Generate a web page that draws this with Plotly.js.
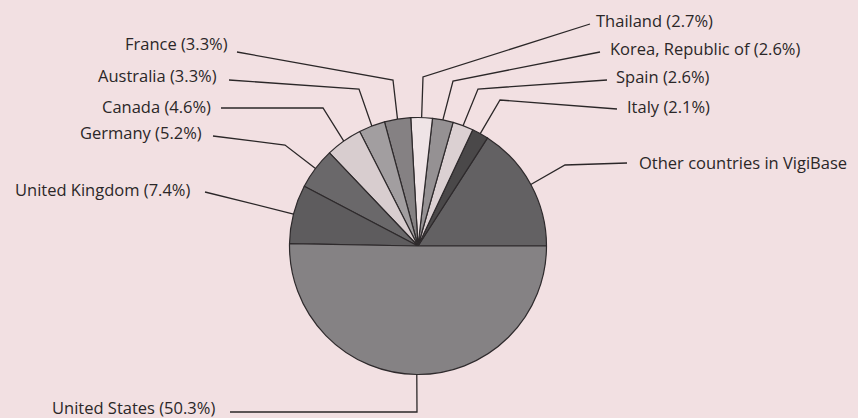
<!DOCTYPE html>
<html>
<head>
<meta charset="utf-8">
<script src="https://cdn.plot.ly/plotly-3.0.1.min.js"></script>
<style>
html,body{margin:0;padding:0;background:#f2e0e2;}
#chart{width:858px;height:418px;}
</style>
</head>
<body>
<div id="chart"></div>
<script>
// Data (slice order: counterclockwise from 3 o'clock)
const countries = ["Other countries in VigiBase","Italy","Spain","Korea, Republic of","Thailand","France","Australia","Canada","Germany","United Kingdom","United States"];
const shares = [15.9, 2.1, 2.6, 2.6, 2.7, 3.3, 3.3, 4.6, 5.2, 7.4, 50.3];
const labelTexts = ["Other countries in VigiBase","Italy (2.1%)","Spain (2.6%)","Korea, Republic of (2.6%)","Thailand (2.7%)","France (3.3%)","Australia (3.3%)","Canada (4.6%)","Germany (5.2%)","United Kingdom (7.4%)","United States (50.3%)"];
const sliceColors = ["#636163","#4a4849","#dbd0d2","#959193","#efe4e6","#858183","#a29ea0","#d8cdcf","#6a686a","#5e5c5e","#858284"];

// Layout (pixels)
const W = 858, H = 418;
const CX = 418, CY = 246, R = 128.5;
// label anchor [x, y, side], elbow points
const labelPos = [
  [637,162,"left"],[625,107,"left"],[614,76,"left"],[608,48,"left"],[594,20,"left"],
  [230,43,"right"],[219,75,"right"],[213,107,"right"],[204,133,"right"],[192,189,"right"],[217,407,"right"]
];
const lineStart = [
  [627,163],[617,109],[607,80],[600,52],[590,24],
  [237,52],[229,80],[221,108],[213,136],[205,192],[230,412]
];
const elbows = [
  [[565,165]],[[500,100]],[[478,89]],[[453,81]],[[423,77]],
  [[393,80]],[[359,89]],[[323,108]],[[285,145]],[],[[417,412]]
];

const px = x => x / W;
const py = y => 1 - y / H;

const total = shares.reduce((a,b)=>a+b,0);
let cum = 0;
const shapes = [];
const annotations = [];
shares.forEach((v,i)=>{
  const mid = (cum + v/2) / total * 2 * Math.PI; // from 3 o'clock, counterclockwise
  cum += v;
  const ex = CX + R * Math.cos(mid);
  const ey = CY - R * Math.sin(mid);
  const pts = [lineStart[i], ...elbows[i], [ex, ey]];
  let d = "M " + pts.map(p => px(p[0]).toFixed(5) + "," + py(p[1]).toFixed(5)).join(" L ");
  shapes.push({type:"path", xref:"paper", yref:"paper", path:d, line:{color:"#2b2728", width:1.3}});
  const lp = labelPos[i];
  annotations.push({
    xref:"paper", yref:"paper", x:px(lp[0]), y:py(lp[1]),
    xanchor:lp[2], yanchor:"middle", showarrow:false,
    text:labelTexts[i],
    font:{family:"Open Sans, sans-serif", size:16.5, color:"#2b2728", weight:500}
  });
});

// Plotly counterclockwise pies: first slice spans [rotation, rotation + angle] clockwise from 12 o'clock
const firstAngle = shares[0] / total * 360;

const data = [{
  type:"pie",
  labels:countries,
  values:shares,
  sort:false,
  direction:"counterclockwise",
  rotation:90 - firstAngle,
  textinfo:"none",
  hoverinfo:"label+percent",
  marker:{colors:sliceColors, line:{color:"#2e2a2c", width:1.2}},
  domain:{x:[px(CX-R), px(CX+R)], y:[py(CY+R), py(CY-R)]},
  showlegend:false
}];

const layout = {
  width:W, height:H,
  margin:{l:0,r:0,t:0,b:0},
  paper_bgcolor:"#f2e0e2",
  plot_bgcolor:"#f2e0e2",
  showlegend:false,
  shapes:shapes,
  annotations:annotations
};

Plotly.newPlot("chart", data, layout, {displayModeBar:false, staticPlot:true});
</script>
</body>
</html>
